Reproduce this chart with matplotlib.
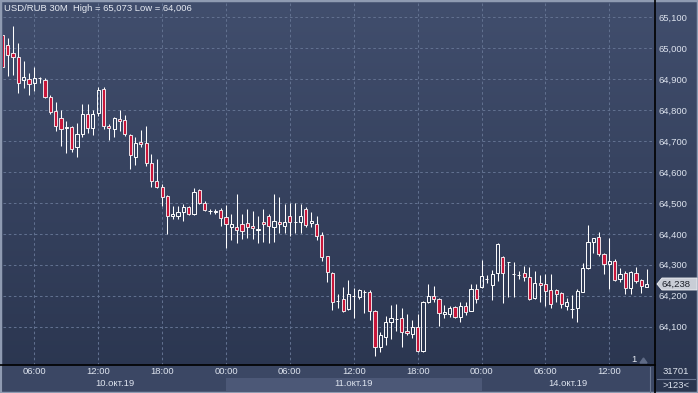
import matplotlib.pyplot as plt
import numpy as np
from matplotlib.colors import LinearSegmentedColormap
from matplotlib.patches import Rectangle, Polygon
from matplotlib.lines import Line2D
from matplotlib.ticker import FuncFormatter

plt.rcParams['font.family'] = ['Liberation Sans', 'DejaVu Sans']

# свечи USD/RUB 30M (open, high, low, close)
opens = [65.043, 65.010, 64.984, 64.971, 64.896, 64.900, 64.889, 64.903, 64.897, 64.842,
         64.796, 64.774, 64.743, 64.744, 64.679, 64.724, 64.787, 64.741, 64.789, 64.867,
         64.748, 64.738, 64.772, 64.767, 64.720, 64.648, 64.696, 64.694, 64.628, 64.570,
         64.552, 64.521, 64.457, 64.459, 64.472, 64.488, 64.463, 64.541, 64.499, 64.474,
         64.472, 64.477, 64.454, 64.423, 64.423, 64.431, 64.434, 64.425, 64.413, 64.437,
         64.459, 64.423, 64.437, 64.426, 64.456, 64.438, 64.439, 64.479, 64.434, 64.431,
         64.395, 64.327, 64.274, 64.183, 64.189, 64.156, 64.200, 64.197, 64.213, 64.212,
         64.152, 64.033, 64.068, 64.114, 64.125, 64.127, 64.085, 64.075, 64.098, 64.022,
         64.181, 64.198, 64.190, 64.140, 64.140, 64.163, 64.132, 64.167, 64.152, 64.222,
         64.227, 64.254, 64.236, 64.273, 64.324, 64.308, 64.271, 64.267, 64.273, 64.260,
         64.194, 64.240, 64.237, 64.219, 64.219, 64.208, 64.168, 64.157, 64.159, 64.213,
         64.289, 64.372, 64.389, 64.334, 64.302, 64.313, 64.253, 64.273, 64.224, 64.273,
         64.251, 64.229]
highs = [65.049, 65.034, 65.073, 65.017, 64.959, 64.919, 64.939, 64.908, 64.905, 64.849,
         64.825, 64.800, 64.765, 64.750, 64.759, 64.820, 64.820, 64.800, 64.874, 64.875,
         64.754, 64.777, 64.800, 64.784, 64.723, 64.712, 64.735, 64.749, 64.657, 64.641,
         64.560, 64.526, 64.490, 64.491, 64.496, 64.491, 64.547, 64.545, 64.506, 64.480,
         64.480, 64.485, 64.493, 64.464, 64.529, 64.464, 64.480, 64.474, 64.458, 64.480,
         64.464, 64.529, 64.518, 64.497, 64.499, 64.499, 64.497, 64.486, 64.472, 64.459,
         64.405, 64.329, 64.276, 64.205, 64.229, 64.251, 64.224, 64.221, 64.219, 64.217,
         64.155, 64.082, 64.135, 64.170, 64.173, 64.159, 64.141, 64.120, 64.140, 64.184,
         64.237, 64.232, 64.193, 64.170, 64.167, 64.167, 64.181, 64.181, 64.238, 64.238,
         64.316, 64.267, 64.283, 64.370, 64.329, 64.310, 64.308, 64.281, 64.296, 64.294,
         64.280, 64.267, 64.270, 64.270, 64.221, 64.211, 64.192, 64.202, 64.221, 64.305,
         64.429, 64.388, 64.405, 64.339, 64.386, 64.318, 64.289, 64.280, 64.280, 64.292,
         64.253, 64.286]
lows = [64.933, 64.910, 64.914, 64.856, 64.872, 64.849, 64.862, 64.887, 64.838, 64.787,
        64.733, 64.685, 64.662, 64.666, 64.649, 64.714, 64.725, 64.720, 64.781, 64.738,
        64.703, 64.714, 64.733, 64.717, 64.610, 64.623, 64.679, 64.619, 64.552, 64.549,
        64.490, 64.399, 64.447, 64.449, 64.443, 64.461, 64.461, 64.496, 64.474, 64.465,
        64.463, 64.425, 64.353, 64.380, 64.369, 64.382, 64.386, 64.382, 64.370, 64.375,
        64.370, 64.373, 64.402, 64.404, 64.393, 64.402, 64.402, 64.421, 64.421, 64.380,
        64.313, 64.245, 64.154, 64.159, 64.148, 64.154, 64.129, 64.189, 64.145, 64.122,
        64.006, 64.019, 64.041, 64.060, 64.086, 64.033, 64.073, 64.062, 64.017, 64.017,
        64.178, 64.181, 64.103, 64.129, 64.132, 64.127, 64.116, 64.138, 64.151, 64.176,
        64.224, 64.240, 64.185, 64.248, 64.178, 64.197, 64.196, 64.254, 64.249, 64.186,
        64.189, 64.181, 64.167, 64.159, 64.181, 64.159, 64.154, 64.127, 64.116, 64.213,
        64.286, 64.339, 64.329, 64.270, 64.222, 64.248, 64.245, 64.206, 64.205, 64.240,
        64.210, 64.227]
closes = [64.938, 64.978, 64.971, 64.889, 64.908, 64.883, 64.903, 64.904, 64.841, 64.795,
          64.750, 64.738, 64.744, 64.674, 64.722, 64.787, 64.741, 64.787, 64.865, 64.749,
          64.741, 64.774, 64.766, 64.722, 64.654, 64.693, 64.690, 64.630, 64.570, 64.552,
          64.518, 64.457, 64.463, 64.472, 64.488, 64.463, 64.536, 64.498, 64.476, 64.475,
          64.473, 64.450, 64.431, 64.431, 64.413, 64.410, 64.423, 64.418, 64.414, 64.431,
          64.426, 64.442, 64.431, 64.437, 64.439, 64.439, 64.456, 64.429, 64.442, 64.393,
          64.326, 64.275, 64.181, 64.183, 64.151, 64.205, 64.200, 64.217, 64.213, 64.152,
          64.034, 64.073, 64.114, 64.127, 64.125, 64.084, 64.079, 64.098, 64.021, 64.179,
          64.199, 64.190, 64.143, 64.148, 64.159, 64.130, 64.167, 64.148, 64.222, 64.189,
          64.263, 64.254, 64.271, 64.366, 64.273, 64.308, 64.271, 64.268, 64.262, 64.189,
          64.240, 64.233, 64.216, 64.172, 64.205, 64.172, 64.179, 64.158, 64.216, 64.289,
          64.373, 64.386, 64.334, 64.302, 64.312, 64.251, 64.269, 64.224, 64.278, 64.249,
          64.232, 64.238]

time_ticks = [6, 18, 30, 42, 54, 66, 78, 90, 102, 114]
time_labels = ['06:00', '12:00', '18:00', '00:00', '06:00', '12:00', '18:00', '00:00', '06:00', '12:00']
day_starts = [0.12, 42, 90]
day_labels = ['10.окт.19', '11.окт.19', '14.окт.19']
price_ticks = [64.1, 64.2, 64.3, 64.4, 64.5, 64.6, 64.7, 64.8, 64.9, 65.0, 65.1]

W, H = 698, 393
fig = plt.figure(figsize=(W / 100, H / 100), dpi=100)


def fx(px):
    return px / W


def fy(py):
    return 1 - py / H


# фон с вертикальным градиентом
bg = fig.add_axes([0, 0, 1, 1])
bg.axis('off')
cmap = LinearSegmentedColormap.from_list('bg', ['#2a354f', '#414e6d'])
bg.imshow(np.linspace(0, 1, 256).reshape(-1, 1), extent=[0, 1, 0, 1], origin='lower',
          aspect='auto', cmap=cmap)
bg.set_xlim(0, 1)
bg.set_ylim(0, 1)

x_left, x_right = 0.12, 122.57
ax = fig.add_axes([fx(3), fy(365), fx(655) - fx(3), fy(3) - fy(365)])
ax.set_facecolor('none')
ax.set_xlim(x_left, x_right)
ax.set_ylim(63.976, 65.146)

x = np.arange(len(opens))
o = np.array(opens)
c = np.array(closes)
hi = np.array(highs)
lo = np.array(lows)
top = np.maximum(o, c)
bot = np.minimum(o, c)
down = c < o

# фитили (без прохода через тело)
ax.vlines(x, top, hi, color='white', lw=0.75, zorder=3)
ax.vlines(x, lo, bot, color='white', lw=0.75, zorder=3)
# тела свечей
ax.bar(x[down], (top - bot)[down], bottom=bot[down], width=0.6, color='#c8163a',
       edgecolor='white', linewidth=0.6, zorder=4)
ax.bar(x[~down], (top - bot)[~down], bottom=bot[~down], width=0.6, facecolor='none',
       edgecolor='white', linewidth=0.7, zorder=4)

ax.set_xticks(time_ticks)
ax.set_yticks(price_ticks)
ax.grid(True, color='#61708f', linestyle=(0, (2.5, 2.5)), linewidth=0.75)
ax.set_axisbelow(True)
ax.tick_params(axis='x', length=0, labelbottom=False)
ax.yaxis.tick_right()
ax.tick_params(axis='y', length=0, pad=2.2, labelsize=6.8, labelcolor='#dde3ee')
ax.yaxis.set_major_formatter(FuncFormatter(lambda v, p: f'{v:.3f}'.replace('.', ',')))
for s in ax.spines.values():
    s.set_visible(False)

# временная шкала
axt = fig.add_axes([fx(3), 0, fx(655) - fx(3), fy(365)])
axt.set_facecolor('#3b4764')
axt.set_xlim(x_left, x_right)
axt.set_ylim(0, 28)
axt.axis('off')
axt.add_patch(Rectangle((day_starts[1], 2), day_starts[2] - day_starts[1], 13,
                        color='#4c5877', lw=0))
for t, lab in zip(time_ticks, time_labels):
    axt.text(t, 21.3, lab, ha='center', va='center', fontsize=6.8, color='#dde3ee')
ends = day_starts[1:] + [x_right]
for s, e, lab in zip(day_starts, ends, day_labels):
    axt.text((s + e) / 2, 9, lab, ha='center', va='center', fontsize=6.8, color='#dde3ee')
axt.add_patch(Rectangle((0, 0), 1, 1, transform=axt.transAxes, color='#3b4764', zorder=-1))

# линии разделения и рамка
fig.add_artist(Line2D([fx(0), fx(655)], [fy(365), fy(365)], color='black', lw=1.2))
fig.add_artist(Line2D([fx(655), fx(655)], [fy(0), fy(393)], color='black', lw=1.2))
fig.add_artist(Line2D([fx(650), fx(650)], [fy(367), fy(393)], color='#6b7792', lw=0.8))
fig.add_artist(Line2D([fx(657), fx(695)], [fy(378.5), fy(378.5)], color='#6b7792', lw=0.8))
fig.add_artist(Rectangle((0, 0), 1, 1, transform=fig.transFigure, fill=False,
                         edgecolor='#8f9bb2', lw=2.5))

# заголовок
fig.text(fx(4), fy(8.5), 'USD/RUB 30M  High = 65,073 Low = 64,006', fontsize=6.8,
         color='#e6eaf2', va='center', ha='left')

# метка текущей цены
last = closes[-1]
py_last = fy(284)
tag = Polygon([[fx(657), py_last], [fx(662), fy(278)], [fx(697), fy(278)],
               [fx(697), fy(290)], [fx(662), fy(290)]], closed=True,
              transform=fig.transFigure, facecolor='#c9cdd6', edgecolor='#eef0f4', lw=0.6)
fig.add_artist(tag)
fig.text(fx(661), py_last, f'{last:.3f}'.replace('.', ','), fontsize=6.8, color='#1b1f28',
         va='center', ha='left')

# правый нижний угол
fig.text(fx(676), fy(372), '31701', fontsize=6.8, color='#dde3ee', ha='center', va='center')
fig.text(fx(676), fy(386), '>123<', fontsize=6.8, color='#dde3ee', ha='center', va='center')
fig.text(fx(634), fy(359), '1', fontsize=6.8, color='#e6eaf2', ha='center', va='center')
fig.add_artist(Polygon([[fx(640), fy(363)], [fx(643.5), fy(358)], [fx(647), fy(363)]],
                       closed=True, transform=fig.transFigure, color='#5f6b86'))

fig.savefig('out.png', dpi=100)
